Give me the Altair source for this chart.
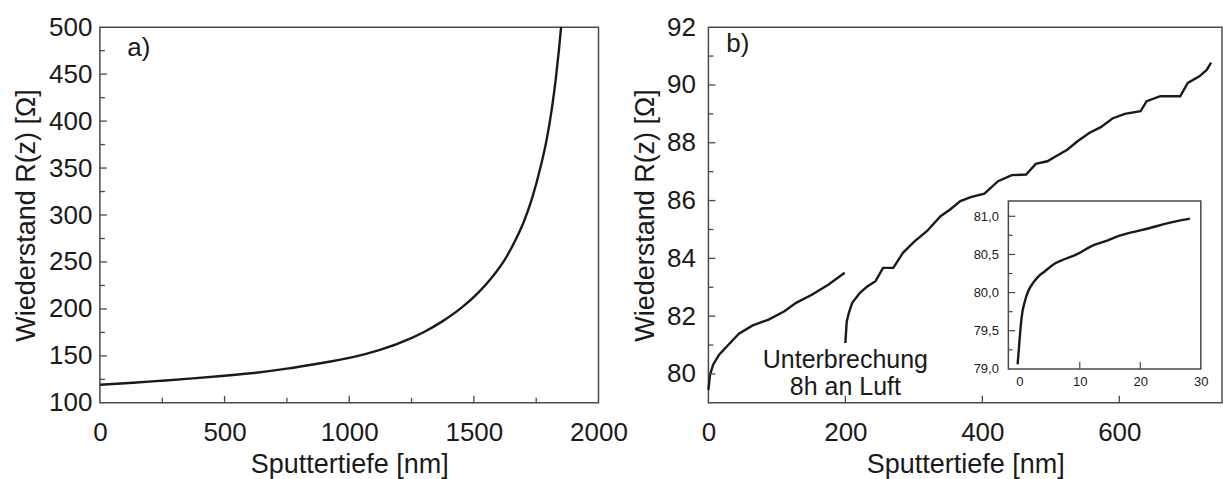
import altair as alt
import pandas as pd

FONT = "Liberation Sans"
INK = "#1a1a1a"
FRAME = "#4a4a4a"

# ---------------- data: panel a) ----------------
a_depth = [0, 133, 250, 373, 500, 627, 750, 867, 1000, 1120, 1249, 1300, 1372, 1452, 1519, 1573, 1626, 1666,
           1700, 1733, 1766, 1793, 1813, 1829, 1842, 1850]
a_res = [119.3, 121.4, 123.6, 126.1, 128.9, 132.1, 136.4, 141.4, 147.9, 156.1, 169.0, 175.5, 186.5, 201.6,
         217.6, 233.7, 253.3, 272.9, 292.5, 317.4, 349.5, 381.6, 413.6, 445.7, 477.8, 500.0]

# ---------------- data: panel b) ----------------
b1_depth = [0, 2.3, 6.9, 15.6, 27.2, 44.5, 64.7, 87.9, 111, 128, 151, 175, 199]
b1_res = [79.45, 79.97, 80.32, 80.67, 80.96, 81.39, 81.68, 81.88, 82.17, 82.46, 82.74, 83.09, 83.50]
b2_depth = [200, 202, 205, 210, 221, 232, 244, 255, 270, 284, 301, 319, 339, 353, 368, 383, 403, 423,
            443, 464, 478, 495, 510, 524, 539, 556, 573, 590, 608, 631, 640, 660, 689, 700, 717, 728, 734]
b2_res = [81.07, 81.82, 82.11, 82.46, 82.80, 83.03, 83.21, 83.67, 83.67, 84.19, 84.59, 84.94, 85.46, 85.69,
          85.98, 86.12, 86.24, 86.67, 86.88, 86.90, 87.27, 87.36, 87.57, 87.76, 88.05, 88.34, 88.54, 88.84,
          89.00, 89.09, 89.44, 89.61, 89.61, 90.07, 90.30, 90.53, 90.77]

# ---------------- data: inset ----------------
in_depth = [-0.27, -0.05, 0.17, 0.38, 0.94, 1.49, 2.31, 3.14, 4.24, 5.89, 7.54, 9.74, 11.94, 14.14,
            16.34, 18.55, 21.3, 24.05, 26.25, 28.2]
in_res = [79.06, 79.28, 79.50, 79.67, 79.89, 80.02, 80.13, 80.21, 80.28, 80.38, 80.44, 80.51, 80.61,
          80.67, 80.74, 80.79, 80.84, 80.90, 80.94, 80.97]

# ---------------- tick values / labels ----------------
a_x_labels = [0, 500, 1000, 1500, 2000]
a_y_labels = [100, 150, 200, 250, 300, 350, 400, 450, 500]
a_x_major = [500, 1000, 1500]
a_x_minor = [250, 750, 1250, 1750]
a_y_major = [150, 200, 250, 300, 350, 400, 450]
a_y_minor = [125, 175, 225, 275, 325, 375, 425, 475]

b_x_labels = [0, 200, 400, 600]
b_y_labels = [80, 82, 84, 86, 88, 90, 92]
b_x_major = [200, 400, 600]
b_y_major = [80, 82, 84, 86, 88, 90]
b_y_minor = [81, 83, 85, 87, 89, 91]

in_x_labels = [0, 10, 20, 30]
in_y_labels = [79.0, 79.5, 80.0, 80.5, 81.0]
in_x_major = [10, 20]
in_y_major = [79.5, 80.0, 80.5, 81.0]
in_y_minor = [79.25, 79.75, 80.25, 80.75]

X_TITLE = "Sputtertiefe [nm]"
Y_TITLE = "Wiederstand R(z) [Ω]"

W_A, W_B, H = 499, 514, 376

# ---------------- helpers ----------------
def x_ticks(vals, scale, axis, length, height):
    return alt.Chart(pd.DataFrame({"v": vals})).mark_rule(color=FRAME, strokeWidth=1.3).encode(
        x=alt.X("v:Q", scale=scale, axis=axis),
        y=alt.value(height), y2=alt.value(height - length))

def y_ticks(vals, scale, axis, length):
    return alt.Chart(pd.DataFrame({"v": vals})).mark_rule(color=FRAME, strokeWidth=1.3).encode(
        y=alt.Y("v:Q", scale=scale, axis=axis),
        x=alt.value(0), x2=alt.value(length))

# ---------------- panel a ----------------
ax_s = alt.Scale(domain=[0, 2000], nice=False, zero=False)
ay_s = alt.Scale(domain=[100, 500], nice=False, zero=False)
ax_axis = alt.Axis(values=a_x_labels, format="d", title=X_TITLE, labelPadding=17, titlePadding=6)
ay_axis = alt.Axis(values=a_y_labels, format="d", title=Y_TITLE, labelPadding=8, titlePadding=8)

a_df = pd.DataFrame({"depth": a_depth, "res": a_res})
a_line = alt.Chart(a_df).mark_line(color=INK, strokeWidth=2.4, interpolate="monotone").encode(
    x=alt.X("depth:Q", scale=ax_s, axis=ax_axis),
    y=alt.Y("res:Q", scale=ay_s, axis=ay_axis))
a_lab = alt.Chart(pd.DataFrame({"x": [156], "y": [477.5], "t": ["a)"]})).mark_text(
    font=FONT, fontSize=26, color=INK, align="center", baseline="middle").encode(
    x=alt.X("x:Q", scale=ax_s, axis=ax_axis), y=alt.Y("y:Q", scale=ay_s, axis=ay_axis), text="t:N")

panel_a = alt.layer(
    a_line,
    x_ticks(a_x_major, ax_s, ax_axis, 7, H), x_ticks(a_x_minor, ax_s, ax_axis, 5, H),
    y_ticks(a_y_major, ay_s, ay_axis, 7), y_ticks(a_y_minor, ay_s, ay_axis, 5),
    a_lab,
).properties(width=W_A, height=H)

# ---------------- panel b ----------------
bx_s = alt.Scale(domain=[0, 750], nice=False, zero=False)
by_s = alt.Scale(domain=[79, 92], nice=False, zero=False)
bx_axis = alt.Axis(values=b_x_labels, format="d", title=X_TITLE, labelPadding=17, titlePadding=6)
by_axis = alt.Axis(values=b_y_labels, format="d", title=Y_TITLE, labelPadding=13, titlePadding=7)

b_df = pd.DataFrame({
    "depth": b1_depth + b2_depth,
    "res": b1_res + b2_res,
    "seg": ["vor"] * len(b1_depth) + ["nach"] * len(b2_depth),
})
b_line = alt.Chart(b_df).mark_line(color=INK, strokeWidth=2.4).encode(
    x=alt.X("depth:Q", scale=bx_s, axis=bx_axis),
    y=alt.Y("res:Q", scale=by_s, axis=by_axis),
    detail="seg:N")
b_lab = alt.Chart(pd.DataFrame({"x": [43], "y": [91.41], "t": ["b)"]})).mark_text(
    font=FONT, fontSize=26, color=INK, align="center", baseline="middle").encode(
    x=alt.X("x:Q", scale=bx_s, axis=bx_axis), y=alt.Y("y:Q", scale=by_s, axis=by_axis), text="t:N")
b_note = alt.Chart(pd.DataFrame({
    "x": [200, 200], "y": [80.50, 79.56], "t": ["Unterbrechung", "8h an Luft"]})).mark_text(
    font=FONT, fontSize=25, color=INK, align="center", baseline="middle").encode(
    x=alt.X("x:Q", scale=bx_s, axis=bx_axis), y=alt.Y("y:Q", scale=by_s, axis=by_axis), text="t:N")

main_b = alt.layer(
    b_line,
    x_ticks(b_x_major, bx_s, bx_axis, 7, H),
    y_ticks(b_y_major, by_s, by_axis, 7), y_ticks(b_y_minor, by_s, by_axis, 5),
    b_lab, b_note,
)

# ---------------- inset ----------------
ix_s = alt.Scale(domain=[-1.8, 30], range=[300.2, 492.8], nice=False, zero=False)
iy_s = alt.Scale(domain=[79.0, 81.2], range=[342, 174], nice=False, zero=False)
ix_axis = alt.Axis(orient="bottom", offset=-34, values=in_x_labels, title=None, labelFontSize=13,
                   labelPadding=7, labelFlush=False)
iy_axis = alt.Axis(orient="left", offset=-300.2, values=in_y_labels, title=None, labelFontSize=13,
                   labelPadding=10, labelExpr="replace(format(datum.value, '.1f'), '.', ',')")

frame_df = pd.DataFrame({"x0": [-1.8], "x1": [30.0], "y0": [79.0], "y1": [81.2]})
in_frame = alt.Chart(frame_df).mark_rect(fill="white", stroke=FRAME, strokeWidth=1.5).encode(
    x=alt.X("x0:Q", scale=ix_s, axis=ix_axis), x2="x1:Q",
    y=alt.Y("y0:Q", scale=iy_s, axis=iy_axis), y2="y1:Q")

in_df = pd.DataFrame({"depth": in_depth, "res": in_res})
in_line = alt.Chart(in_df).mark_line(color=INK, strokeWidth=2.4, interpolate="monotone").encode(
    x=alt.X("depth:Q", scale=ix_s, axis=ix_axis),
    y=alt.Y("res:Q", scale=iy_s, axis=iy_axis))

def in_yt(vals, length_units):
    return alt.Chart(pd.DataFrame({"v": vals, "a": [-1.8] * len(vals), "b": [-1.8 + length_units] * len(vals)})).mark_rule(
        color=FRAME, strokeWidth=1.2).encode(
        y=alt.Y("v:Q", scale=iy_s, axis=iy_axis),
        x=alt.X("a:Q", scale=ix_s, axis=ix_axis), x2="b:Q")

in_xt = alt.Chart(pd.DataFrame({"v": in_x_major, "a": [79.0] * 2, "b": [79.09] * 2})).mark_rule(
    color=FRAME, strokeWidth=1.2).encode(
    x=alt.X("v:Q", scale=ix_s, axis=ix_axis),
    y=alt.Y("a:Q", scale=iy_s, axis=iy_axis), y2="b:Q")

inset = alt.layer(in_frame, in_yt(in_y_major, 1.15), in_yt(in_y_minor, 0.7), in_xt, in_line)

panel_b = alt.layer(main_b, inset).resolve_scale(x="independent", y="independent").properties(
    width=W_B, height=H)

chart = alt.hconcat(panel_a, panel_b, spacing=2).configure(
    padding={"left": 11, "top": 13, "right": 0, "bottom": 0},
    font=FONT,
).configure_axis(
    labelFont=FONT, titleFont=FONT, labelFontSize=26, titleFontSize=27,
    labelColor=INK, titleColor=INK, titleFontWeight="normal",
    ticks=False, domain=False, grid=False, labelFlush=False,
).configure_view(stroke=FRAME, strokeWidth=1.5)

chart.save("out.html", embed_options={"renderer": "svg", "actions": False})
